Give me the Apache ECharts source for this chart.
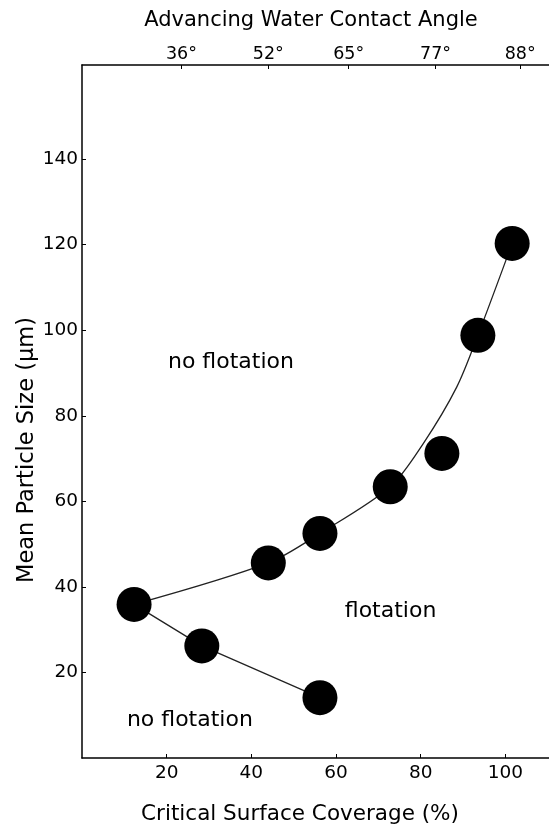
<!DOCTYPE html>
<html>
<head>
<meta charset="utf-8">
<script src="https://cdn.jsdelivr.net/npm/echarts@6/dist/echarts.min.js"></script>
<style>
  html, body { margin: 0; padding: 0; background: #fff; }
  #chart { width: 549px; height: 827px; }
</style>
</head>
<body>
<div id="chart"></div>
<script>
// ---- data ----
const pointX = [12.3, 28.3, 56.2, 44.0, 56.2, 72.8, 85.0, 93.5, 101.6];
const pointY = [35.9, 26.2, 14.1, 45.6, 52.5, 63.4, 71.2, 98.8, 120.3];

// fitted curve as traced on the reference (passes left of the 85% point)
const upperCurveX = [12.3, 44.0, 56.2, 72.8, 80.6, 88.5, 93.5, 101.6];
const upperCurveY = [35.9, 45.6, 52.5, 63.4, 73.5, 86.7, 98.8, 120.3];

const lowerLineX = [12.3, 28.3, 56.2];
const lowerLineY = [35.9, 26.2, 14.1];

const xTickValues = [20, 40, 60, 80, 100];
const yTickValues = [20, 40, 60, 80, 100, 120, 140];

const angleTickPos = [23.5, 44, 63, 83.5, 103.5];
const angleLabels = ['36°', '52°', '65°', '77°', '88°'];

const regionNames = ['no flotation', 'flotation', 'no flotation'];
const regionX = [35.3, 73.0, 25.6];
const regionY = [92.3, 34.2, 8.7];

const xTitle = 'Critical Surface Coverage (%)';
const yTitle = 'Mean Particle Size (μm)';
const topTitle = 'Advancing Water Contact Angle';

// ---- chart ----
const FONT = 'DejaVu Sans';
const INK = '#000';
const zip = (a, b) => a.map((v, i) => [v, b[i]]);

const chart = echarts.init(document.getElementById('chart'));
chart.setOption({
  animation: false,
  backgroundColor: '#fff',
  grid: { left: 82, right: 0, top: 65, bottom: 69, containLabel: false, outerBoundsMode: 'none' },
  xAxis: [
    {
      type: 'value', position: 'bottom', min: 0, max: 110.3, interval: 20,
      splitLine: { show: false },
      axisLine: { show: true, onZero: false, lineStyle: { color: INK, width: 1.5 } },
      axisTick: { show: true, inside: true, length: 4, customValues: xTickValues, lineStyle: { color: INK } },
      axisLabel: { show: true, customValues: xTickValues, margin: 6, color: INK, fontFamily: FONT, fontSize: 18.5 },
      name: xTitle, nameLocation: 'middle', nameGap: 45, nameMoveOverlap: false,
      nameTextStyle: { color: INK, fontFamily: FONT, fontSize: 21.5, padding: [0, 31, 0, 0] }
    },
    {
      type: 'value', position: 'top', min: 0, max: 110.3,
      splitLine: { show: false },
      axisLine: { show: true, onZero: false, lineStyle: { color: INK, width: 1.5 } },
      axisTick: { show: true, inside: true, length: 4, customValues: angleTickPos, lineStyle: { color: INK } },
      axisLabel: {
        show: true, customValues: angleTickPos, margin: 2, color: INK, fontFamily: FONT, fontSize: 17.5,
        formatter: (v) => { const i = angleTickPos.indexOf(v); return i >= 0 ? angleLabels[i] : ''; }
      },
      name: topTitle, nameLocation: 'middle', nameGap: 34, nameMoveOverlap: false,
      nameTextStyle: { color: INK, fontFamily: FONT, fontSize: 21, padding: [0, 9, 0, 0] }
    }
  ],
  yAxis: {
    type: 'value', min: 0, max: 162, interval: 20,
    splitLine: { show: false },
    axisLine: { show: true, onZero: false, lineStyle: { color: INK, width: 1.5 } },
    axisTick: { show: true, inside: true, length: 4, customValues: yTickValues, lineStyle: { color: INK } },
    axisLabel: { show: true, customValues: yTickValues, margin: 4, color: INK, fontFamily: FONT, fontSize: 18.5 },
    name: yTitle, nameLocation: 'middle', nameGap: 43, nameRotate: 90, nameMoveOverlap: false,
    nameTextStyle: { color: INK, fontFamily: FONT, fontSize: 22.5, padding: [0, 77, 0, 0] }
  },
  series: [
    {
      type: 'line', xAxisIndex: 0, data: zip(upperCurveX, upperCurveY),
      smooth: 0.3, symbol: 'none', lineStyle: { color: '#222', width: 1.3 }, z: 2
    },
    {
      type: 'line', xAxisIndex: 0, data: zip(lowerLineX, lowerLineY),
      symbol: 'none', lineStyle: { color: '#222', width: 1.3 }, z: 2
    },
    {
      type: 'scatter', xAxisIndex: 0, data: zip(pointX, pointY),
      symbol: 'circle', symbolSize: 35, itemStyle: { color: '#000', opacity: 1 }, z: 3
    },
    {
      type: 'scatter', xAxisIndex: 0,
      data: regionNames.map((n, i) => ({ name: n, value: [regionX[i], regionY[i]] })),
      symbol: 'circle', symbolSize: 1, itemStyle: { color: '#fff', opacity: 0 }, silent: true,
      label: {
        show: true, position: [0, 0], align: 'center', verticalAlign: 'middle',
        formatter: (p) => p.name, color: INK, opacity: 1, fontFamily: FONT, fontSize: 22
      },
      z: 4
    }
  ]
});
</script>
</body>
</html>
